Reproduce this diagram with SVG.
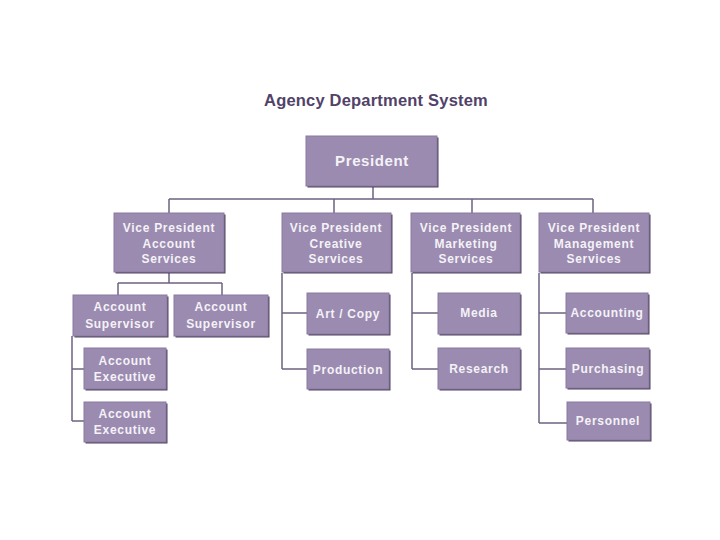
<svg xmlns="http://www.w3.org/2000/svg" width="720" height="540" viewBox="0 0 720 540">
<style>
.bx{fill:#9b8bb0;stroke:#8a7aa0;stroke-width:1}
.sh{fill:#4e4260}
.t{font-family:"Liberation Sans",Arial,sans-serif;font-weight:bold;font-size:12px;fill:#f4f2f7;text-anchor:middle;letter-spacing:0.7px}
.tp{font-size:15px;letter-spacing:0.6px}
.title{font-family:"Liberation Sans",Arial,sans-serif;font-weight:bold;font-size:16.5px;fill:#514269;text-anchor:middle;letter-spacing:0.2px}
.ln{fill:none;stroke:#6c6380;stroke-width:1.5}
</style>
<rect width="720" height="540" fill="#ffffff"/>
<text class="title" x="376" y="106">Agency Department System</text>
<g id="connectors">
<path class="ln" d="M373 186V199M169 199H593M169 199V213M334 199V213M472 199V213M593 199V213"/>
<path class="ln" d="M169 272V283M118 283H222M118 283V295M222 283V295"/>
<path class="ln" d="M72 336V421M72 369H84M72 421H84"/>
<path class="ln" d="M282 273V369M282 313H307M282 369H307"/>
<path class="ln" d="M412 273V369M412 313H438M412 369H438"/>
<path class="ln" d="M539 273V423M539 313H566M539 369H566M539 423H567"/>
</g>
<g id="president"><rect class="sh" x="307.5" y="137.5" width="131" height="50"/><rect class="bx" x="306" y="136" width="131" height="50"/><text class="t tp" x="372" y="166">President</text></g>
<g id="vp-account"><rect class="sh" x="115.5" y="214.5" width="110" height="59"/><rect class="bx" x="114" y="213" width="110" height="59"/><text class="t" x="169" y="232">Vice President</text><text class="t" x="169" y="248">Account</text><text class="t" x="169" y="263">Services</text></g>
<g id="vp-creative"><rect class="sh" x="283.5" y="214.5" width="109" height="59"/><rect class="bx" x="282" y="213" width="109" height="59"/><text class="t" x="336" y="232">Vice President</text><text class="t" x="336" y="248">Creative</text><text class="t" x="336" y="263">Services</text></g>
<g id="vp-marketing"><rect class="sh" x="412.5" y="214.5" width="109" height="59"/><rect class="bx" x="411" y="213" width="109" height="59"/><text class="t" x="466" y="232">Vice President</text><text class="t" x="466" y="248">Marketing</text><text class="t" x="466" y="263">Services</text></g>
<g id="vp-management"><rect class="sh" x="540.5" y="214.5" width="110" height="59"/><rect class="bx" x="539" y="213" width="110" height="59"/><text class="t" x="594" y="232">Vice President</text><text class="t" x="594" y="248">Management</text><text class="t" x="594" y="263">Services</text></g>
<g id="acct-sup-1"><rect class="sh" x="74.5" y="296.5" width="94" height="41"/><rect class="bx" x="73" y="295" width="94" height="41"/><text class="t" x="120" y="311">Account</text><text class="t" x="120" y="328">Supervisor</text></g>
<g id="acct-sup-2"><rect class="sh" x="175.5" y="296.5" width="94" height="41"/><rect class="bx" x="174" y="295" width="94" height="41"/><text class="t" x="221" y="311">Account</text><text class="t" x="221" y="328">Supervisor</text></g>
<g id="acct-exec-1"><rect class="sh" x="85.5" y="349.5" width="82" height="41"/><rect class="bx" x="84" y="348" width="82" height="41"/><text class="t" x="125" y="365">Account</text><text class="t" x="125" y="381">Executive</text></g>
<g id="acct-exec-2"><rect class="sh" x="85.5" y="403.5" width="82" height="40"/><rect class="bx" x="84" y="402" width="82" height="40"/><text class="t" x="125" y="418">Account</text><text class="t" x="125" y="434">Executive</text></g>
<g id="art-copy"><rect class="sh" x="308.5" y="294.5" width="82" height="41"/><rect class="bx" x="307" y="293" width="82" height="41"/><text class="t" x="348" y="318">Art / Copy</text></g>
<g id="production"><rect class="sh" x="308.5" y="350.5" width="82" height="40"/><rect class="bx" x="307" y="349" width="82" height="40"/><text class="t" x="348" y="374">Production</text></g>
<g id="media"><rect class="sh" x="439.5" y="294.5" width="82" height="41"/><rect class="bx" x="438" y="293" width="82" height="41"/><text class="t" x="479" y="317">Media</text></g>
<g id="research"><rect class="sh" x="439.5" y="349.5" width="82" height="41"/><rect class="bx" x="438" y="348" width="82" height="41"/><text class="t" x="479" y="373">Research</text></g>
<g id="accounting"><rect class="sh" x="567.5" y="294.5" width="82" height="40"/><rect class="bx" x="566" y="293" width="82" height="40"/><text class="t" x="607" y="317">Accounting</text></g>
<g id="purchasing"><rect class="sh" x="567.5" y="349.5" width="83" height="40"/><rect class="bx" x="566" y="348" width="83" height="40"/><text class="t" x="608" y="373">Purchasing</text></g>
<g id="personnel"><rect class="sh" x="568.5" y="403.5" width="83" height="38"/><rect class="bx" x="567" y="402" width="83" height="38"/><text class="t" x="608" y="425">Personnel</text></g>
</svg>
